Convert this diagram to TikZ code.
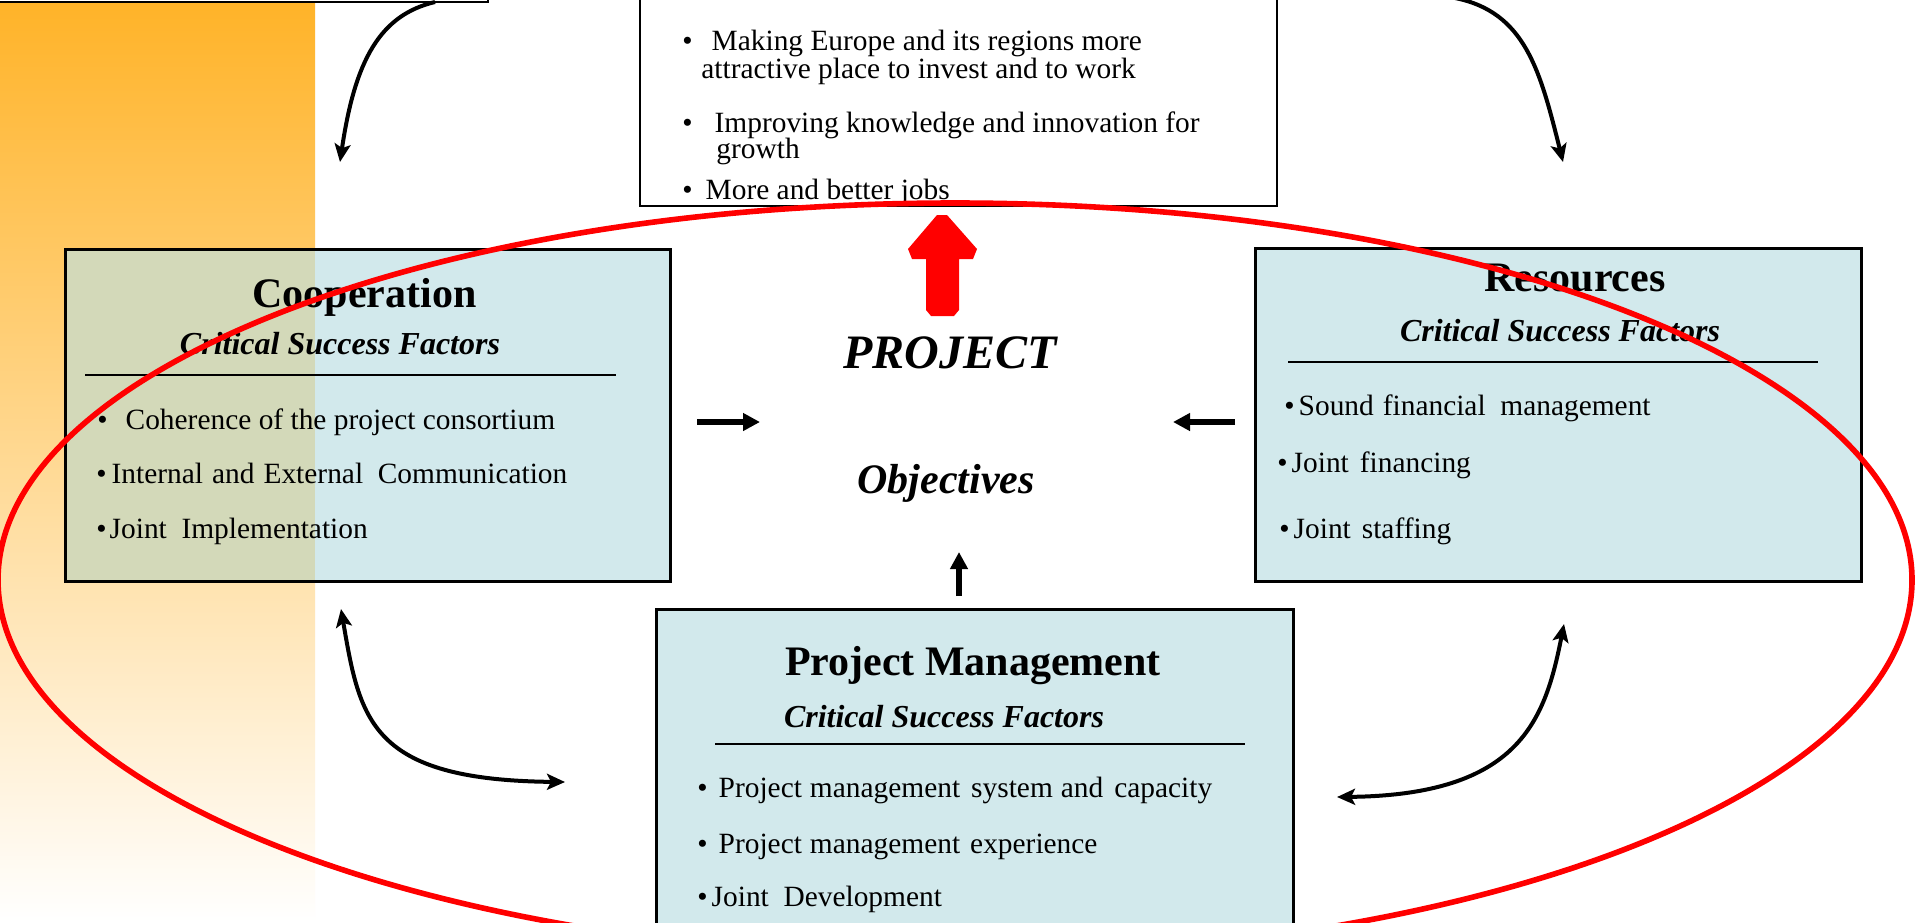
\documentclass[tikz,border=0pt]{standalone}
\usepackage{fontspec}
\setmainfont{Liberation Serif}
\usetikzlibrary{arrows.meta}
\definecolor{csfblue}{RGB}{210,233,236}
\definecolor{csfmix}{RGB}{211,217,185}
\definecolor{barorange}{RGB}{255,179,40}

\begin{document}
\begin{tikzpicture}[x=0.5pt, y=-0.5pt,
    box/.style={draw, line width=1.5pt, fill=csfblue, inner sep=0pt},
    item/.style={anchor=base west, inner sep=0pt, font=\fontsize{14.7}{17}\selectfont},
    boxtitle/.style={anchor=base, inner sep=0pt, font=\fontsize{21}{25}\selectfont\bfseries},
    csf/.style={anchor=base, inner sep=0pt, font=\fontsize{16}{19}\selectfont\bfseries\itshape},
    rule/.style={line width=0.8pt},
    link/.style={line width=2pt, -{Stealth[length=9pt,width=8pt,inset=2pt]}},
    twoway/.style={line width=2pt, {Stealth[length=9pt,width=8pt,inset=2pt]}-{Stealth[length=9pt,width=8pt,inset=2pt]}},
    push/.style={line width=3pt, -{Triangle[length=8.5pt,width=8.5pt]}}]
    \useasboundingbox (0,0) rectangle (1915,922);
    \fill[white] (0,0) rectangle (1915,922);
    \shade[top color=barorange, bottom color=white] (0,0) rectangle (315,922);

    % boxes
    \node[draw, line width=1pt, fill=white, minimum width=254pt, minimum height=76pt] (plan) at (234,-74) {};
    \node[draw, line width=1.2pt, fill=white, minimum width=318.5pt, minimum height=113pt] (aims) at (958.5,93) {};
    \node[box, minimum width=302.5pt, minimum height=166pt] (coop) at (367.5,415) {};
    \fill[csfmix] (66.5,250.5) rectangle (315,579.5);
    \node[box, minimum width=303pt, minimum height=166.5pt] (res) at (1558,414.5) {};
    \node[box, minimum width=318.5pt, minimum height=170.5pt] (pm) at (974.5,779.5) {};

    % aims
    \node[item] (aim1) at (682,50) {\textbullet\hspace{9.5pt}Making Europe and its regions more};
    \node[item] (aim1b) at (701,78) {attractive place to invest and to work};
    \node[item] (aim2) at (682,132) {\textbullet\hspace{11pt}Improving knowledge and innovation for};
    \node[item] (aim2b) at (716,158) {growth};
    \node[item] (aim3) at (682,199) {\textbullet\hspace{6.5pt}More and better jobs};

    % cooperation
    \node[boxtitle] (cooptitle) at (364.5,307) {Cooperation};
    \node[csf] (coopcsf) at (340,354) {Critical Success Factors};
    \draw[rule] (85,375) -- (616,375);
    \node[item] (coop1) at (97,429) {\textbullet\hspace{9pt}Coherence of the project consortium};
    \node[item] (coop2) at (96,483) {\textbullet\hspace{2.5pt}Internal\hspace{4.5pt}and\hspace{4.5pt}External\ \ Communication};
    \node[item] (coop3) at (96,538) {\textbullet\hspace{1.5pt}Joint\ \ Implementation};

    % resources
    \node[boxtitle] (restitle) at (1575,291) {Resources};
    \node[csf] (rescsf) at (1560,341) {Critical Success Factors};
    \draw[rule] (1288,362) -- (1818,362);
    \node[item] (res1) at (1284,415) {\textbullet\hspace{2pt}Sound\hspace{4.5pt}financial\ \ management};
    \node[item] (res2) at (1277,472) {\textbullet\hspace{2pt}Joint\hspace{5.5pt}financing};
    \node[item] (res3) at (1279,538) {\textbullet\hspace{2pt}Joint\hspace{5.5pt}staffing};

    % project management
    \node[boxtitle] (pmtitle) at (973,675) {Project Management};
    \node[csf] (pmcsf) at (944,727) {Critical Success Factors};
    \draw[rule] (715,744) -- (1245,744);
    \node[item] (pm1) at (697,797) {\textbullet\hspace{5.5pt}Project\hspace{4pt}management\hspace{5.5pt}system\hspace{4pt}and\hspace{5.5pt}capacity};
    \node[item] (pm2) at (697,853) {\textbullet\hspace{5.5pt}Project\hspace{4pt}management\hspace{5pt}experience};
    \node[item] (pm3) at (697,906) {\textbullet\hspace{2pt}Joint\ \ Development};

    % centre
    \node[anchor=base, inner sep=0pt, font=\fontsize{24}{28}\selectfont\bfseries\itshape] (proj) at (950,368) {PROJECT};
    \node[anchor=base, inner sep=0pt, font=\fontsize{21}{25}\selectfont\bfseries\itshape] (objs) at (946,493) {Objectives};

    \fill[red] (937,215) -- (947,215) -- (977,249) -- (973,259) -- (959,259) -- (959,310) -- (954,316)
        -- (931,316) -- (926,310) -- (926,259) -- (912,259) -- (908,249) -- cycle;

    % free ends
    \coordinate (tlfrom) at (435,2);
    \coordinate (tlto) at (340,162);
    \coordinate (trfrom) at (1455,-2);
    \coordinate (trto) at (1563,162);
    \coordinate (blup) at (341,609);
    \coordinate (blright) at (565,782);
    \coordinate (brleft) at (1337,797);
    \coordinate (brup) at (1564,624);
    \coordinate (inleft) at (697,422);
    \coordinate (inleftend) at (760,422);
    \coordinate (inright) at (1235,422);
    \coordinate (inrightend) at (1173,422);
    \coordinate (inlow) at (959,596);
    \coordinate (inlowend) at (959,552);

    \draw[link] (tlfrom) .. controls (380,15) and (355,60) .. (tlto);
    \draw[link] (trfrom) .. controls (1525,12) and (1540,70) .. (trto);
    \draw[twoway] (blup) .. controls (360,720) and (370,780) .. (blright);
    \draw[twoway] (brleft) .. controls (1520,795) and (1545,720) .. (brup);

    \draw[push] (inleft) -- (inleftend);
    \draw[push] (inright) -- (inrightend);
    \draw[push] (inlow) -- (inlowend);

    \draw[red, line width=2.8pt] (955,580) ellipse [x radius=478.5pt, y radius=188.5pt];
\end{tikzpicture}
\end{document}
